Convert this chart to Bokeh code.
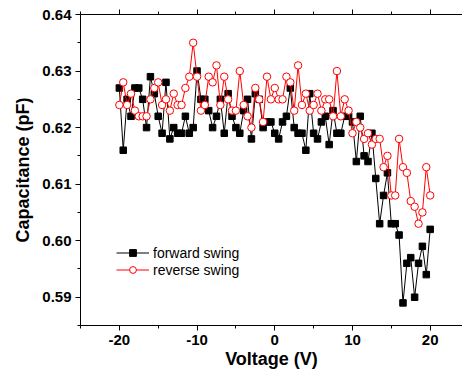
from bokeh.plotting import figure
from bokeh.models import (Range1d, LinearAxis, FixedTicker, Legend, LegendItem,
                          ColumnDataSource, CustomLabelingPolicy)
from bokeh.embed import file_html
from bokeh.resources import INLINE

voltage = [-20, -19.5, -19, -18.5, -18, -17.5, -17, -16.5, -16, -15.5,
           -15, -14.5, -14, -13.5, -13, -12.5, -12, -11.5, -11, -10.5,
           -10, -9.5, -9, -8.5, -8, -7.5, -7, -6.5, -6, -5.5,
           -5, -4.5, -4, -3.5, -3, -2.5, -2, -1.5, -1, -0.5,
           0, 0.5, 1, 1.5, 2, 2.5, 3, 3.5, 4, 4.5,
           5, 5.5, 6, 6.5, 7, 7.5, 8, 8.5, 9, 9.5,
           10, 10.5, 11, 11.5, 12, 12.5, 13, 13.5, 14, 14.5,
           15, 15.5, 16, 16.5, 17, 17.5, 18, 18.5, 19, 19.5, 20]

forward = [0.627, 0.616, 0.625, 0.622, 0.627, 0.627, 0.625, 0.620, 0.629, 0.626,
           0.622, 0.619, 0.628, 0.618, 0.620, 0.619, 0.619, 0.622, 0.619, 0.620,
           0.630, 0.625, 0.625, 0.623, 0.620, 0.622, 0.625, 0.619, 0.626, 0.622,
           0.620, 0.619, 0.623, 0.625, 0.618, 0.626, 0.625, 0.620, 0.621, 0.621,
           0.619, 0.618, 0.621, 0.622, 0.627, 0.620, 0.619, 0.619, 0.616, 0.626,
           0.619, 0.618, 0.621, 0.622, 0.617, 0.623, 0.619, 0.619, 0.622, 0.622,
           0.621, 0.614, 0.622, 0.615, 0.614, 0.619, 0.611, 0.603, 0.608, 0.612,
           0.603, 0.603, 0.601, 0.589, 0.596, 0.597, 0.590, 0.596, 0.599, 0.594, 0.602]

reverse = [0.624, 0.628, 0.624, 0.626, 0.623, 0.622, 0.622, 0.622, 0.625, 0.627,
           0.628, 0.624, 0.625, 0.623, 0.626, 0.624, 0.624, 0.627, 0.629, 0.635,
           0.629, 0.623, 0.624, 0.629, 0.628, 0.631, 0.624, 0.629, 0.625, 0.623,
           0.623, 0.630, 0.624, 0.622, 0.620, 0.627, 0.625, 0.621, 0.629, 0.625,
           0.627, 0.625, 0.625, 0.629, 0.628, 0.623, 0.631, 0.624, 0.626, 0.623,
           0.624, 0.626, 0.623, 0.625, 0.625, 0.622, 0.630, 0.622, 0.625, 0.623,
           0.619, 0.621, 0.620, 0.618, 0.619, 0.617, 0.618, 0.618, 0.613, 0.615,
           0.608, 0.608, 0.618, 0.613, 0.612, 0.607, 0.606, 0.603, 0.605, 0.613, 0.608]

x_ticks = [-20, -10, 0, 10, 20]
x_minor = [-25, -15, -5, 5, 15, 25]
x_labels = {-20: "-20", -10: "-10", 0: "0", 10: "10", 20: "20"}
y_ticks = [0.59, 0.60, 0.61, 0.62, 0.63, 0.64]
y_minor = [0.585, 0.595, 0.605, 0.615, 0.625, 0.635]
y_labels = {0.59: "0.59", 0.60: "0.60", 0.61: "0.61", 0.62: "0.62", 0.63: "0.63", 0.64: "0.64"}

FONT = "Liberation Sans"

p = figure(width=462, height=381, output_backend="svg", toolbar_location=None,
           x_range=Range1d(-25, 24.16), y_range=Range1d(0.585, 0.64),
           x_axis_location=None, y_axis_location=None,
           min_border_left=80, min_border_right=0, min_border_top=14, min_border_bottom=56)
p.grid.visible = False
p.outline_line_color = None
p.background_fill_color = "white"
p.border_fill_color = "white"

xt = FixedTicker(ticks=x_ticks, minor_ticks=x_minor)
yt = FixedTicker(ticks=y_ticks, minor_ticks=y_minor)


def style(ax, labels=True):
    ax.axis_line_color = "black"
    ax.axis_line_width = 1
    ax.major_tick_line_color = "black"
    ax.minor_tick_line_color = "black"
    ax.major_tick_in = 0
    ax.major_tick_out = 5
    ax.minor_tick_in = 0
    ax.minor_tick_out = 3
    ax.major_label_text_font = FONT
    ax.major_label_text_font_style = "bold"
    ax.major_label_text_color = "black"
    ax.major_label_text_font_size = "15px" if labels else "0px"
    ax.major_label_standoff = 4
    ax.axis_label_text_font = FONT
    ax.axis_label_text_font_style = "bold"
    ax.axis_label_text_color = "black"
    ax.axis_label_text_font_size = "18px"


bottom = LinearAxis(ticker=xt, axis_label="Voltage (V)", major_label_overrides=x_labels)
style(bottom)
bottom.axis_label_standoff = 1
p.add_layout(bottom, "below")

left = LinearAxis(ticker=yt, axis_label="Capacitance (pF)",
                  major_label_overrides=y_labels)
style(left)
left.axis_label_standoff = 6
p.add_layout(left, "left")

top = LinearAxis(ticker=xt)
style(top, labels=False)
top.major_label_standoff = 0
top.major_label_policy = CustomLabelingPolicy(
    code="for (const i of Array.from(indices)) { indices.unset(i) } return indices")
p.add_layout(top, "above")

src_f = ColumnDataSource(dict(x=voltage, y=forward))
src_r = ColumnDataSource(dict(x=voltage, y=reverse))

lf = p.line("x", "y", source=src_f, line_color="black", line_width=1)
sf = p.scatter("x", "y", source=src_f, marker="square", size=6.5,
               fill_color="black", line_color="black")
lr = p.line("x", "y", source=src_r, line_color="red", line_width=1)
sr = p.scatter("x", "y", source=src_r, marker="circle", size=7.5,
               fill_color="white", line_color="red", line_width=1)

legend = Legend(items=[LegendItem(label="forward swing", renderers=[lf, sf]),
                       LegendItem(label="reverse swing", renderers=[lr, sr])],
                location=(36, 47), orientation="vertical",
                glyph_width=33, glyph_height=17, label_height=17,
                label_standoff=4, spacing=0, padding=0, margin=0,
                border_line_color=None, background_fill_alpha=0,
                label_text_font=FONT, label_text_font_size="14px",
                label_text_color="black")
p.add_layout(legend, "center")

open("out.html", "w").write(file_html(p, INLINE))
